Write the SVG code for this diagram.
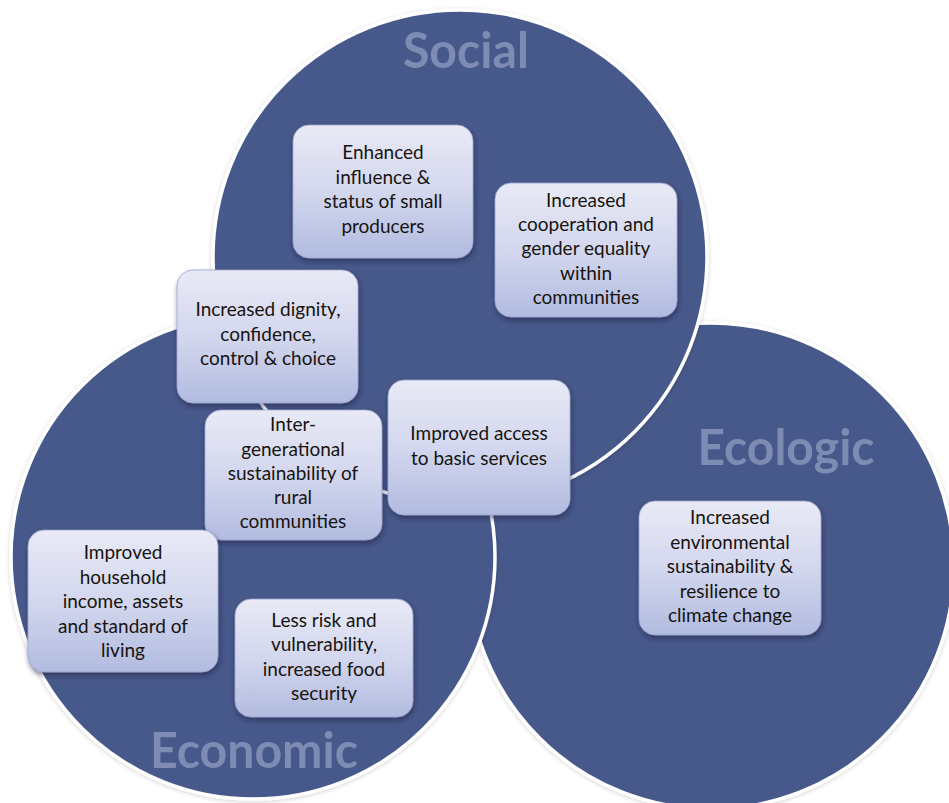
<svg xmlns="http://www.w3.org/2000/svg" width="949" height="803" viewBox="0 0 949 803">
  <defs>
    <linearGradient id="boxGrad" x1="0" y1="0" x2="0" y2="1">
      <stop offset="0" stop-color="#E9EAF6"/>
      <stop offset="0.5" stop-color="#D3D7EE"/>
      <stop offset="1" stop-color="#B2BBE0"/>
    </linearGradient>
    <filter id="boxShadow" x="-10%" y="-10%" width="125%" height="130%">
      <feDropShadow dx="1" dy="3" stdDeviation="2.5" flood-color="#1A2140" flood-opacity="0.55"/>
    </filter>
    <filter id="circShadow" x="-5%" y="-5%" width="110%" height="110%">
      <feDropShadow dx="0" dy="1" stdDeviation="2" flood-color="#000" flood-opacity="0.18"/>
    </filter>
  </defs>
  <style>
    .circle { fill: #46598A; stroke: #FFFFFF; stroke-width: 3.5; }
    .box { fill: url(#boxGrad); stroke: #9AA5CF; stroke-width: 0.8; }
    .label { font-family: Lato, "Liberation Sans", sans-serif; font-size: 19px; fill: #17130F; text-anchor: middle; }
    .heading { font-family: Lato, "Liberation Sans", sans-serif; font-weight: bold; font-size: 50px; fill: #7E8CB4; text-anchor: middle; }
  </style>
  <rect x="0" y="0" width="949" height="803" fill="#FFFFFF"/>

  <g id="circle-ecologic">
    <circle class="circle" cx="711" cy="566" r="243" filter="url(#circShadow)"/>
  </g>
  <g id="circle-economic">
    <circle class="circle" cx="253" cy="557" r="242" filter="url(#circShadow)"/>
  </g>
  <g id="circle-social">
    <circle class="circle" cx="460" cy="257" r="247" filter="url(#circShadow)"/>
  </g>

  <g id="heading-social">
    <text class="heading" x="466" y="68" textLength="126" lengthAdjust="spacingAndGlyphs">Social</text>
  </g>
  <g id="heading-ecologic">
    <text class="heading" x="786" y="465" textLength="177" lengthAdjust="spacingAndGlyphs">Ecologic</text>
  </g>
  <g id="heading-economic">
    <text class="heading" x="254" y="768" textLength="208" lengthAdjust="spacingAndGlyphs">Economic</text>
  </g>

  <g id="connectors"></g>

  <g id="node-influence">
    <rect class="box" x="293" y="125" width="180" height="133" rx="16" filter="url(#boxShadow)"/>
    <text class="label" x="383" y="159">Enhanced</text>
    <text class="label" x="383" y="184">influence &amp;</text>
    <text class="label" x="383" y="208">status of small</text>
    <text class="label" x="383" y="233">producers</text>
  </g>

  <g id="node-cooperation">
    <rect class="box" x="495" y="183" width="182" height="134" rx="16" filter="url(#boxShadow)"/>
    <text class="label" x="586" y="207">Increased</text>
    <text class="label" x="586" y="231">cooperation and</text>
    <text class="label" x="586" y="255">gender equality</text>
    <text class="label" x="586" y="280">within</text>
    <text class="label" x="586" y="304">communities</text>
  </g>

  <g id="node-dignity">
    <rect class="box" x="177" y="270" width="181" height="133" rx="16" filter="url(#boxShadow)"/>
    <text class="label" x="268" y="316">Increased dignity,</text>
    <text class="label" x="268" y="341">confidence,</text>
    <text class="label" x="268" y="365">control &amp; choice</text>
  </g>

  <g id="node-intergenerational">
    <rect class="box" x="205" y="410" width="177" height="130" rx="16" filter="url(#boxShadow)"/>
    <text class="label" x="293" y="431">Inter-</text>
    <text class="label" x="293" y="456">generational</text>
    <text class="label" x="293" y="480">sustainability of</text>
    <text class="label" x="293" y="504">rural</text>
    <text class="label" x="293" y="528">communities</text>
  </g>

  <g id="node-services">
    <rect class="box" x="388" y="380" width="182" height="135" rx="16" filter="url(#boxShadow)"/>
    <text class="label" x="479" y="440">Improved access</text>
    <text class="label" x="479" y="465">to basic services</text>
  </g>

  <g id="node-household">
    <rect class="box" x="28" y="530" width="190" height="142" rx="16" filter="url(#boxShadow)"/>
    <text class="label" x="123" y="559">Improved</text>
    <text class="label" x="123" y="584">household</text>
    <text class="label" x="123" y="608">income, assets</text>
    <text class="label" x="123" y="633">and standard of</text>
    <text class="label" x="123" y="657">living</text>
  </g>

  <g id="node-risk">
    <rect class="box" x="235" y="599" width="178" height="118" rx="16" filter="url(#boxShadow)"/>
    <text class="label" x="324" y="627">Less risk and</text>
    <text class="label" x="324" y="651">vulnerability,</text>
    <text class="label" x="324" y="676">increased food</text>
    <text class="label" x="324" y="700">security</text>
  </g>

  <g id="node-environment">
    <rect class="box" x="639" y="501" width="182" height="134" rx="16" filter="url(#boxShadow)"/>
    <text class="label" x="730" y="524">Increased</text>
    <text class="label" x="730" y="549">environmental</text>
    <text class="label" x="730" y="573">sustainability &amp;</text>
    <text class="label" x="730" y="598">resilience to</text>
    <text class="label" x="730" y="622">climate change</text>
  </g>
</svg>
